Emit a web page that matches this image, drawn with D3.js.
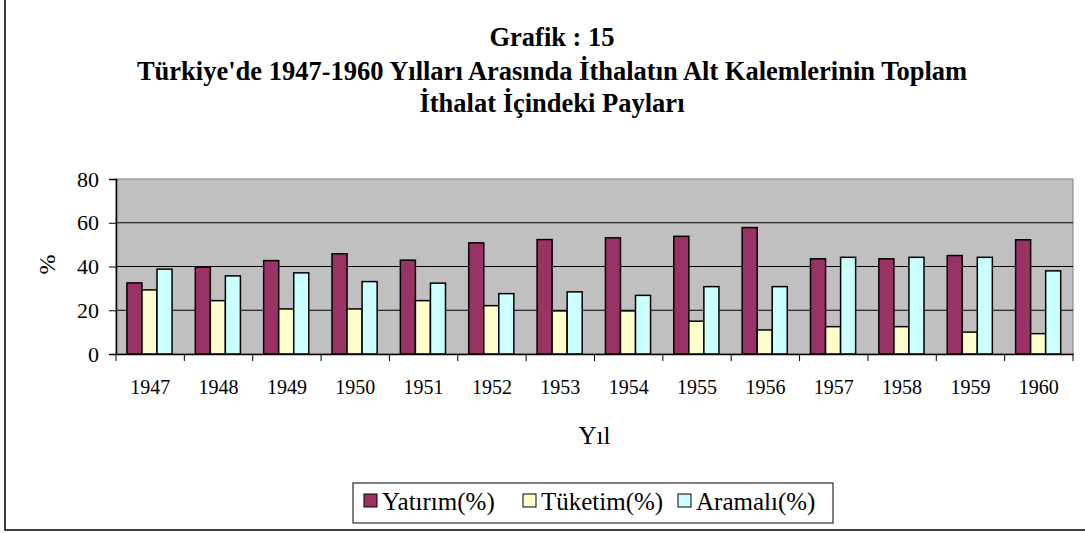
<!DOCTYPE html>
<html>
<head>
<meta charset="utf-8">
<script src="https://cdn.jsdelivr.net/npm/d3@7"></script>
<style>
  body { margin: 0; background: #fff; }
</style>
</head>
<body>
<div id="myChart"></div>
<script>
// data
let years = ["1947", "1948", "1949", "1950", "1951", "1952", "1953", "1954", "1955", "1956", "1957", "1958", "1959", "1960"];
let seriesNames = ["Yatırım(%)", "Tüketim(%)", "Aramalı(%)"];
let yatirim = [32.5, 39.7, 42.7, 45.8, 42.9, 50.8, 52.3, 53.1, 53.8, 57.8, 43.5, 43.5, 45.0, 52.2];
let tuketim = [29.3, 24.4, 20.6, 20.6, 24.4, 22.1, 19.7, 19.7, 15.0, 11.0, 12.5, 12.5, 10.0, 9.3];
let aramali = [38.8, 35.7, 37.1, 33.1, 32.4, 27.6, 28.4, 26.8, 30.8, 30.8, 44.2, 44.2, 44.2, 38.0];
let yTicks = [0, 20, 40, 60, 80];
let colors = ["#993366", "#FFFFCC", "#CCFFFF"];
let serif = "'Liberation Serif', 'Times New Roman', serif";

let W = 1085, H = 533;
let margin = { top: 179, right: 12, bottom: 179, left: 116 },
    width = W - margin.left - margin.right,
    height = H - margin.top - margin.bottom;

let svgRoot = d3.select("#myChart").append("svg")
    .attr("width", W)
    .attr("height", H)
    .style("font-family", serif);

// outer chart border (top and right fall outside the picture)
svgRoot.append("rect")
    .attr("x", 5).attr("y", -5)
    .attr("width", W + 10).attr("height", 535)
    .attr("fill", "#fff")
    .attr("stroke", "#000")
    .attr("stroke-width", 1.5);

// title
let titles = ["Grafik : 15",
    "Türkiye'de 1947-1960 Yılları Arasında İthalatın Alt Kalemlerinin Toplam",
    "İthalat İçindeki Payları"];
let titleY = [46, 80, 112];
svgRoot.selectAll(".title")
    .data(titles)
    .enter()
    .append("text")
    .attr("class", "title")
    .attr("x", 552)
    .attr("y", function(d, i) { return titleY[i]; })
    .attr("text-anchor", "middle")
    .style("font-family", serif)
    .style("font-size", "26.5px")
    .style("font-weight", "bold")
    .text(function(d) { return d; });

let svg = svgRoot.append("g")
    .attr("transform", "translate(" + margin.left + "," + margin.top + ")");

let x0 = d3.scaleBand()
    .domain(years)
    .range([0, width])
    .padding(0);
let bw = x0.bandwidth();
let x1 = d3.scaleBand()
    .domain(seriesNames)
    .range([bw * 0.16, bw * 0.82])
    .padding(0);
let y = d3.scaleLinear()
    .domain([0, 80])
    .range([height, 0]);

// plot area
svg.append("rect")
    .attr("width", width)
    .attr("height", height)
    .attr("fill", "#C0C0C0")
    .attr("stroke", "#808080")
    .attr("stroke-width", 1);

// gridlines
svg.selectAll(".grid")
    .data(yTicks.slice(1, -1))
    .enter()
    .append("line")
    .attr("x1", 0).attr("x2", width)
    .attr("y1", function(d) { return y(d); })
    .attr("y2", function(d) { return y(d); })
    .attr("stroke", "#000")
    .attr("stroke-width", 1);

// bars
let rows = years.map(function(yr, i) {
    return { year: yr, values: [yatirim[i], tuketim[i], aramali[i]] };
});
let groups = svg.selectAll(".grp")
    .data(rows)
    .enter()
    .append("g")
    .attr("transform", function(d) { return "translate(" + x0(d.year) + ",0)"; });
groups.selectAll("rect")
    .data(function(d) { return d.values.map(function(v, j) { return { name: seriesNames[j], value: v, j: j }; }); })
    .enter()
    .append("rect")
    .attr("x", function(d) { return x1(d.name); })
    .attr("width", x1.bandwidth())
    .attr("y", function(d) { return y(d.value); })
    .attr("height", function(d) { return height - y(d.value); })
    .attr("fill", function(d) { return colors[d.j]; })
    .attr("stroke", "#000")
    .attr("stroke-width", 1.5);

// y axis
let yAxis = svg.append("g")
    .call(d3.axisLeft(y).tickValues(yTicks).tickSize(7).tickPadding(10));
yAxis.attr("font-family", serif);
yAxis.select(".domain").attr("stroke", "#000").attr("stroke-width", 1.5);
yAxis.selectAll("text").style("font-size", "22px").style("font-family", serif);

// x axis
let xAxis = svg.append("g")
    .attr("transform", "translate(0," + height + ")")
    .call(d3.axisBottom(x0).tickSize(0).tickPadding(26));
xAxis.attr("font-family", serif);
xAxis.select(".domain").attr("stroke", "#000").attr("stroke-width", 1.5);
xAxis.selectAll("text").style("font-size", "20px").style("font-family", serif);

// x ticks at category boundaries
let bounds = years.map(function(d) { return x0(d); }).concat([width]);
svg.selectAll(".xtick")
    .data(bounds)
    .enter()
    .append("line")
    .attr("x1", function(d) { return d; })
    .attr("x2", function(d) { return d; })
    .attr("y1", height)
    .attr("y2", height + 7)
    .attr("stroke", "#000");

// axis titles
svg.append("text")
    .attr("transform", "translate(" + (width / 2) + "," + (height + 90) + ")")
    .style("text-anchor", "middle")
    .style("font-family", serif)
    .style("font-size", "25px")
    .text("Yıl");

svg.append("text")
    .attr("transform", "rotate(-90)")
    .attr("x", 0 - (height / 2) + 2)
    .attr("y", -61)
    .style("text-anchor", "middle")
    .style("font-family", serif)
    .style("font-size", "24px")
    .text("%");

// legend
let legend = svgRoot.append("g").attr("transform", "translate(353,483)");
legend.append("rect")
    .attr("width", 480).attr("height", 40)
    .attr("fill", "#fff")
    .attr("stroke", "#000");
let legX = [11, 170, 325];
let items = legend.selectAll(".leg")
    .data(seriesNames)
    .enter()
    .append("g")
    .attr("transform", function(d, i) { return "translate(" + legX[i] + ",0)"; });
items.append("rect")
    .attr("y", 11)
    .attr("width", 13).attr("height", 13)
    .attr("fill", function(d, i) { return colors[i]; })
    .attr("stroke", "#000");
items.append("text")
    .attr("x", 18)
    .attr("y", 27)
    .style("font-family", serif)
    .style("font-size", "25px")
    .text(function(d) { return d; });
</script>
</body>
</html>
